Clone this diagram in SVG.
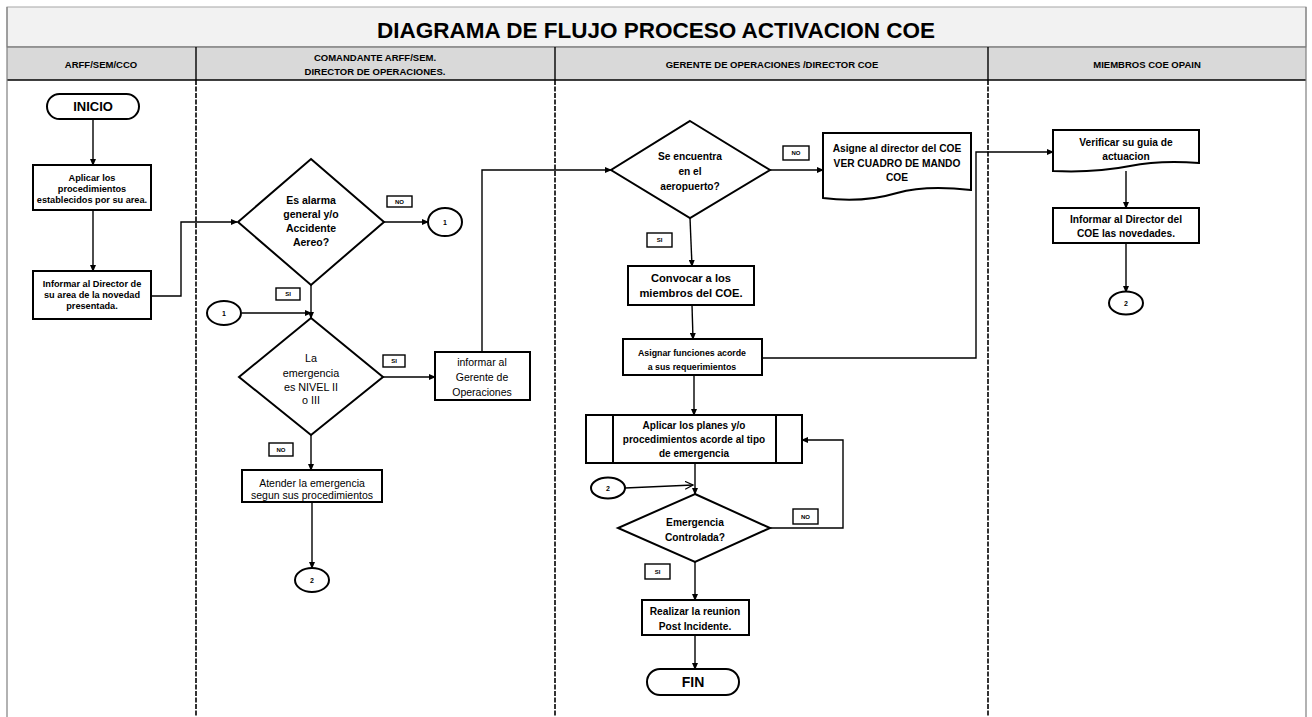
<svg xmlns="http://www.w3.org/2000/svg" width="1312" height="717" viewBox="0 0 1312 717">
<defs>
<marker id="ah" markerUnits="userSpaceOnUse" markerWidth="7" markerHeight="6" refX="6" refY="3" orient="auto"><path d="M0,0 L7,3 L0,6 Z" fill="#000"/></marker>
<marker id="ao" markerUnits="userSpaceOnUse" markerWidth="9" markerHeight="9" refX="8" refY="4.5" orient="auto"><path d="M0,0.5 L8,4.5 L0,8.5" fill="none" stroke="#000" stroke-width="1.2"/></marker>
<style>
.t{font-family:"Liberation Sans",Arial,sans-serif;fill:#000;text-anchor:middle}
.b{font-weight:bold}
.s{stroke:#000;stroke-width:2;fill:#fff}
.c{stroke:#000;stroke-width:1.4;fill:none;marker-end:url(#ah)}
.lane{stroke:#000;stroke-width:1.6;stroke-dasharray:5 1.5}
.lbl{stroke:#000;stroke-width:1.4;fill:#fff}
.f1{font-size:9.2px}
.f10{font-size:10.2px}
.fd{font-size:10.5px}
.fr{font-size:10.5px}
.f6{font-size:6px}
.f7{font-size:7px}
.hd{font-size:9.5px;font-weight:bold}
</style>
</defs>
<rect x="0" y="0" width="1312" height="717" fill="#fff"/>
<g id="frame">
<rect x="7" y="7" width="1299" height="40" fill="#f2f2f2" stroke="#a6a6a6" stroke-width="1"/>
<rect x="7" y="47" width="1299" height="33" fill="#d9d9d9" stroke="none"/>
<line x1="7" y1="47" x2="1306" y2="47" stroke="#595959" stroke-width="1.2"/>
<line x1="7" y1="80" x2="1306" y2="80" stroke="#000" stroke-width="1.6"/>
<line x1="7" y1="7" x2="7" y2="717" stroke="#7f7f7f" stroke-width="1.2"/>
<line x1="1306" y1="7" x2="1306" y2="717" stroke="#7f7f7f" stroke-width="1.2"/>
<line x1="196" y1="47" x2="196" y2="80" stroke="#000" stroke-width="1.4"/>
<line x1="555" y1="47" x2="555" y2="80" stroke="#000" stroke-width="1.4"/>
<line x1="988" y1="47" x2="988" y2="80" stroke="#000" stroke-width="1.4"/>
<line class="lane" x1="196" y1="80" x2="196" y2="717"/>
<line class="lane" x1="555" y1="80" x2="555" y2="717"/>
<line class="lane" x1="988" y1="80" x2="988" y2="717"/>
<text class="t b" x="656" y="38" font-size="22.5">DIAGRAMA DE FLUJO PROCESO ACTIVACION COE</text>
<text class="t hd" x="101" y="68">ARFF/SEM/CCO</text>
<text class="t hd" x="375" y="61">COMANDANTE ARFF/SEM.</text>
<text class="t hd" x="375" y="75">DIRECTOR DE OPERACIONES.</text>
<text class="t hd" x="772" y="68">GERENTE DE OPERACIONES /DIRECTOR COE</text>
<text class="t hd" x="1147" y="68">MIEMBROS COE OPAIN</text>
</g>
<g id="connectors">
<path class="c" d="M93,119 V165"/>
<path class="c" d="M93,210 V271"/>
<path class="c" d="M151,296 H181 V222 H237"/>
<path class="c" d="M383,222 H428"/>
<path class="c" d="M311,285 V318"/>
<path class="c" d="M242,313 H311"/>
<path class="c" d="M383,377 H435"/>
<path class="c" d="M482,352 V170 H611"/>
<path class="c" d="M311,435 V470"/>
<path class="c" d="M312,502 V568"/>
<path class="c" d="M770,170 H823"/>
<path class="c" d="M690,218 L692,266"/>
<path class="c" d="M692,305 L693,339"/>
<path class="c" d="M694,375 V415"/>
<path class="c" d="M762,358 H976 V152 H1053"/>
<path class="c" d="M695,463 V494"/>
<path d="M625,488 L693,485" stroke="#000" stroke-width="1.4" fill="none" marker-end="url(#ao)"/>
<path class="c" d="M770,528 H843 V440 H802"/>
<path class="c" d="M695,562 V600"/>
<path class="c" d="M695,635 V669"/>
<path class="c" d="M1126,171 V208"/>
<path class="c" d="M1126,243 V292"/>
</g>
<g id="inicio">
<rect class="s" x="47" y="94" width="92" height="25" rx="12.5"/>
<text class="t b" x="93" y="111" font-size="13">INICIO</text>
</g>
<g id="aplicar">
<rect class="s" x="33" y="165" width="118" height="45"/>
<text class="t b f1" x="92" y="181">Aplicar los</text>
<text class="t b f1" x="92" y="192">procedimientos</text>
<text class="t b f1" x="92" y="203">establecidos por su area.</text>
</g>
<g id="informar-director">
<rect class="s" x="33" y="271" width="118" height="48"/>
<text class="t b f1" x="92" y="287">Informar al Director de</text>
<text class="t b f1" x="92" y="298">su area de la novedad</text>
<text class="t b f1" x="92" y="309">presentada.</text>
</g>
<g id="d-alarma">
<polygon class="s" points="311,159 384,222 311,285 238,222"/>
<text class="t b fd" x="311" y="204">Es alarma</text>
<text class="t b fd" x="311" y="218">general y/o</text>
<text class="t b fd" x="311" y="232">Accidente</text>
<text class="t b fd" x="311" y="246">Aereo?</text>
</g>
<g id="lbl-no1"><rect class="lbl" x="387" y="196" width="25" height="11"/><text class="t b f6" x="399.5" y="204">NO</text></g>
<g id="con1a"><ellipse class="s" cx="445" cy="222" rx="17" ry="14"/><text class="t b f7" x="445" y="225">1</text></g>
<g id="lbl-si1"><rect class="lbl" x="276" y="288" width="24" height="12"/><text class="t b f6" x="288" y="296">SI</text></g>
<g id="con1b"><ellipse class="s" cx="224" cy="313" rx="17" ry="12"/><text class="t b f7" x="224" y="316">1</text></g>
<g id="d-nivel">
<polygon class="s" points="311,318 383,377 311,435 239,377"/>
<text class="t" x="311" y="362" font-size="10.8">La</text>
<text class="t" x="311" y="377" font-size="10.8">emergencia</text>
<text class="t" x="311" y="391" font-size="10.8">es NIVEL  II</text>
<text class="t" x="311" y="404" font-size="10.8">o III</text>
</g>
<g id="lbl-si2"><rect class="lbl" x="383" y="355" width="22" height="12"/><text class="t b f6" x="394" y="363">SI</text></g>
<g id="informar-gerente">
<rect class="s" x="435" y="352" width="95" height="48"/>
<text class="t fr" x="482" y="366">informar al</text>
<text class="t fr" x="482" y="381">Gerente de</text>
<text class="t fr" x="482" y="396">Operaciones</text>
</g>
<g id="lbl-no2"><rect class="lbl" x="269" y="443" width="24" height="13"/><text class="t b f6" x="281" y="452">NO</text></g>
<g id="atender">
<rect class="s" x="242" y="470" width="140" height="32"/>
<text class="t fr" x="312" y="486.5">Atender  la emergencia</text>
<text class="t fr" x="312" y="498.5">segun sus procedimientos</text>
</g>
<g id="con2a"><ellipse class="s" cx="312" cy="580" rx="17" ry="12"/><text class="t b f7" x="312" y="583">2</text></g>
<g id="d-aeropuerto">
<polygon class="s" points="690,121 770,170 690,218 611,170"/>
<text class="t b f10" x="690" y="159.5">Se encuentra</text>
<text class="t b f10" x="690" y="174.5">en el</text>
<text class="t b f10" x="690" y="189.5">aeropuerto?</text>
</g>
<g id="lbl-no3"><rect class="lbl" x="783" y="146" width="26" height="14"/><text class="t b f6" x="796" y="155">NO</text></g>
<g id="asigne-director">
<path class="s" d="M823,133 H971 V190 C945,187 918,187 897,193 C870,201 845,201 823,198 Z"/>
<text class="t b f10" x="897" y="151.5">Asigne  al director del COE</text>
<text class="t b f10" x="897" y="166.5">VER CUADRO DE MANDO</text>
<text class="t b f10" x="897" y="180.5">COE</text>
</g>
<g id="lbl-si3"><rect class="lbl" x="647" y="233" width="25" height="14"/><text class="t b f6" x="659.5" y="242">SI</text></g>
<g id="convocar">
<rect class="s" x="628" y="266" width="126" height="39"/>
<text class="t b" x="691" y="282" font-size="11.2">Convocar a los</text>
<text class="t b" x="691" y="297" font-size="11.2">miembros del COE.</text>
</g>
<g id="asignar">
<rect class="s" x="623" y="339" width="139" height="36"/>
<text class="t b" x="692" y="355.5" font-size="8.8">Asignar funciones acorde</text>
<text class="t b" x="692" y="369.5" font-size="8.8">a sus requerimientos</text>
</g>
<g id="aplicar-planes">
<rect class="s" x="586" y="415" width="216" height="48"/>
<line x1="613" y1="415" x2="613" y2="463" stroke="#000" stroke-width="2"/>
<line x1="776" y1="415" x2="776" y2="463" stroke="#000" stroke-width="2"/>
<text class="t b" x="694" y="428.5" font-size="10">Aplicar los planes y/o</text>
<text class="t b" x="694" y="442.5" font-size="10">procedimientos acorde al tipo</text>
<text class="t b" x="694" y="456.5" font-size="10">de emergencia</text>
</g>
<g id="con2b"><ellipse class="s" cx="608" cy="488" rx="17" ry="10.5"/><text class="t b f7" x="608" y="491">2</text></g>
<g id="d-controlada">
<polygon class="s" points="695,494 770,528 695,562 618,528"/>
<text class="t b f10" x="695" y="525.5">Emergencia</text>
<text class="t b f10" x="695" y="540.5">Controlada?</text>
</g>
<g id="lbl-no4"><rect class="lbl" x="793" y="509" width="25" height="15"/><text class="t b f6" x="805.5" y="519">NO</text></g>
<g id="lbl-si4"><rect class="lbl" x="645" y="564" width="25" height="15"/><text class="t b f6" x="657.5" y="574">SI</text></g>
<g id="realizar">
<rect class="s" x="642" y="600" width="107" height="35"/>
<text class="t b f10" x="695" y="614.5">Realizar  la reunion</text>
<text class="t b f10" x="695" y="629.5">Post Incidente.</text>
</g>
<g id="fin">
<rect class="s" x="647" y="669" width="92" height="26" rx="13"/>
<text class="t b" x="693" y="687" font-size="14">FIN</text>
</g>
<g id="verificar">
<path class="s" d="M1053,130 H1199 V163 C1172,161 1150,162 1130,166 C1100,172 1075,172 1053,171 Z"/>
<text class="t b f10" x="1126" y="145.5">Verificar su guia de</text>
<text class="t b f10" x="1126" y="159.5">actuacion</text>
</g>
<g id="informar-novedades">
<rect class="s" x="1053" y="208" width="146" height="35"/>
<text class="t b f10" x="1126" y="222.5">Informar al Director del</text>
<text class="t b f10" x="1126" y="236.5">COE las novedades.</text>
</g>
<g id="con2c"><ellipse class="s" cx="1126" cy="303" rx="17" ry="11.5"/><text class="t b f7" x="1126" y="306">2</text></g>
</svg>
